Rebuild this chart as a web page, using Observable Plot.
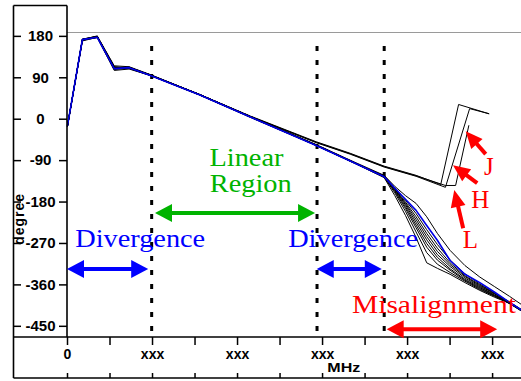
<!DOCTYPE html>
<html><head><meta charset="utf-8">
<script src="https://cdn.jsdelivr.net/npm/d3@7"></script>
<script src="https://cdn.jsdelivr.net/npm/@observablehq/plot@0.6"></script>
<style>
html,body{margin:0;padding:0;background:#fff;}
svg{display:block;}
</style>
</head><body><div id="chart"></div>
<script>
// ---- data (frequency in tick units, phase in degrees) ----
const freq = [0, 0.35, 0.7, 1.1, 1.45, 1.95, 3.1, 4.3, 5.85, 6.65, 7.45, 7.7, 7.95, 8.2, 8.45, 8.7, 9.0, 9.35, 9.7, 10.05, 10.4, 10.7];
const phaseBlue = [-14, 173, 178, 110, 112, 95, 53, 5, -57, -91, -125, -150, -174, -198, -231, -263, -307, -337, -355, -376, -398, -416];
const phaseK1 = [-16, 172, 179, 112, 113, 96, 53, 5, -56, -91, -127, -166, -209, -257, -312, -324, -337, -355, -372, -387, -400, -418];
const phaseK2 = [-15, 174, 180, 114, 110, 95, 53, 5, -57, -91, -126, -160, -200, -245, -290, -315, -333, -352, -370, -385, -400, -417];
const phaseK3 = [-14, 170, 178, 108, 111, 96, 54, 6, -56, -90, -125, -157, -194, -236, -278, -306, -328, -350, -368, -384, -401, -418];
const phaseK4 = [-15, 173, 181, 116, 114, 97, 54, 6, -56, -90, -125, -155, -190, -230, -270, -300, -325, -348, -366, -383, -400, -417];
const phaseK5 = [-13, 172, 177, 106, 109, 95, 53, 5, -57, -91, -124, -153, -186, -224, -262, -294, -320, -345, -364, -382, -399, -416];
const phaseK6 = [-14, 174, 180, 113, 112, 96, 53, 5, -56, -90, -124, -152, -183, -218, -255, -287, -316, -342, -362, -380, -398, -416];
const phaseK7 = [-15, 171, 179, 110, 113, 96, 54, 5, -57, -91, -124, -151, -180, -212, -248, -280, -312, -340, -360, -379, -398, -415];
const phaseK8 = [-14, 173, 178, 111, 111, 95, 53, 4, -57, -91, -123, -149, -176, -205, -240, -272, -306, -336, -358, -378, -397, -415];
const phaseK9 = [-14, 172, 180, 112, 112, 96, 54, 6, -55, -89, -122, -146, -166, -183, -212, -248, -285, -318, -343, -364, -385, -404];

const freqJ = [0, 0.35, 0.7, 1.1, 1.45, 1.95, 3.1, 4.3, 5.85, 6.65, 7.45, 8.2, 8.89, 9.13, 9.44];
const phaseJ = [-15, 172, 179, 111, 112, 96, 54, 6, -50, -75, -103, -123, -144, -144, -14];
const freqH = [0, 0.35, 0.7, 1.1, 1.45, 1.95, 3.1, 4.3, 5.85, 6.65, 7.45, 8.2, 8.89, 9.46, 9.91];
const phaseH = [-14, 173, 180, 113, 111, 95, 54, 6, -51, -76, -104, -124, -148, 23, 12];
const freqL = [0, 0.35, 0.7, 1.1, 1.45, 1.95, 3.1, 4.3, 5.85, 6.65, 7.45, 8.2, 8.78, 9.2, 9.91];
const phaseL = [-15, 174, 178, 112, 113, 96, 54, 7, -49, -74, -102, -122, -142, 32, 12];

const yTicks = [180, 90, 0, -90, -180, -270, -360, -450];
const xTicks = [0, 1, 2, 3, 4, 5, 6, 7, 8, 9, 10];
const xTickLabels = ["0", "", "xxx", "", "xxx", "", "xxx", "", "xxx", "", "xxx"];
const yLabel = "degree";
const xLabel = "MHz";

const dividers = [1.98, 5.87, 7.45];

const noteLabels = ["Linear", "Region", "Divergence", "Divergence", "Misalignment", "J", "H", "L"];
const noteX = [4.21, 4.31, 1.71, 6.72, 8.62, 9.91, 9.71, 9.48];
const noteY = [-100.6, -159.2, -277.6, -277.6, -420, -122, -192, -279];
const noteColor = ["#00b300", "#00b300", "#0000ff", "#0000ff", "#ff0000", "#ff0000", "#ff0000", "#ff0000"];

const spanFrom = [2.07, 0, 5.875, 7.52];
const spanTo = [5.835, 1.91, 7.405, 10.12];
const spanAt = [-205, -326.5, -326.5, -457.5];
const spanColor = ["#00b300", "#0000ff", "#0000ff", "#ff0000"];

const pointFromX = [9.85, 9.65, 9.32];
const pointFromY = [-77, -140, -238];
const pointToX = [9.38, 9.08, 9.11];
const pointToY = [-27, -101, -155];

// ---- build tables ----
const blackSeries = [
  ["k1", freq, phaseK1], ["k2", freq, phaseK2], ["k3", freq, phaseK3], ["k4", freq, phaseK4],
  ["k5", freq, phaseK5], ["k6", freq, phaseK6], ["k7", freq, phaseK7], ["k8", freq, phaseK8],
  ["k9", freq, phaseK9], ["J", freqJ, phaseJ], ["H", freqH, phaseH], ["L", freqL, phaseL]
];
const blackRows = blackSeries.flatMap(([id, f, p]) => f.map((x, i) => ({id, x, y: p[i]})));
const blueRows = freq.map((x, i) => ({x, y: phaseBlue[i]}));
const notes = noteLabels.map((t, i) => ({t, x: noteX[i], y: noteY[i], c: noteColor[i]}));

const yTop = 188.4, yBottom = -474.3;

const chart = Plot.plot({
  width: 521, height: 381,
  marginTop: 32, marginBottom: 44, marginLeft: 67, marginRight: 0,
  x: {domain: [0, 10.68], label: null, axis: null},
  y: {domain: [yBottom, yTop], label: null, axis: null},
  style: {fontFamily: "'Liberation Sans', Arial, sans-serif", background: "white", color: "black"},
  marks: [
    Plot.ruleY([yTop], {stroke: "#9a9a9a", strokeWidth: 1.2}),
    Plot.ruleX(dividers, {y1: 158, y2: yBottom, stroke: "black", strokeWidth: 3, strokeDasharray: "5,9"}),
    Plot.line(blackRows, {x: "x", y: "y", z: "id", stroke: "black", strokeWidth: 1, curve: "linear"}),
    Plot.line(blueRows, {x: "x", y: "y", stroke: "#0000e6", strokeWidth: 1.6}),
    Plot.axisY(yTicks, {anchor: "left", label: null, tickSize: 0, tickPadding: 27, textAnchor: "middle",
      fontWeight: "bold", fontSize: 15, tickFormat: d => String(d)}),
    Plot.axisY(yTicks, {anchor: "left", label: null, tickSize: 8, strokeWidth: 1.5, tickFormat: () => ""}),
    Plot.axisY(yTicks, {anchor: "left", label: null, tickSize: 8, strokeWidth: 1.5, dx: -46, tickFormat: () => ""}),
    Plot.axisX(xTicks, {anchor: "bottom", label: null, tickSize: 8, tickPadding: 4, strokeWidth: 1.5,
      fontWeight: "bold", fontSize: 14, tickFormat: d => xTickLabels[xTicks.indexOf(d)]}),
    Plot.axisX(xTicks, {anchor: "bottom", label: null, tickSize: 5, dy: 36, strokeWidth: 1.5, tickFormat: () => ""}),
    Plot.text([xLabel], {x: [6.5], frameAnchor: "bottom", dy: 34, fontWeight: "bold", fontSize: 13, text: d => d}),
    Plot.text(notes, {x: "x", y: "y", text: "t", fill: "c", fontFamily: "'Liberation Serif', 'Times New Roman', serif",
      fontSize: 25, textAnchor: "middle", lineAnchor: "bottom"})
  ]
});
document.getElementById("chart").appendChild(chart);

// ---- decorations drawn with the chart's own scales ----
const sx = chart.scale("x"), sy = chart.scale("y");
const X = v => sx.apply(v), Y = v => sy.apply(v);
const svgSel = d3.select(chart);
const deco = svgSel.append("g");

// stretch serif annotation text to the reference widths
const stretch = {"Linear": 74, "Region": 82, "Divergence": 130, "Misalignment": 164, "MHz": 33};
svgSel.selectAll("text").each(function() {
  const t = this.textContent;
  if (stretch[t] && this.childNodes.length === 1) {
    d3.select(this).attr("textLength", stretch[t]).attr("lengthAdjust", "spacingAndGlyphs");
  }
});

// rotated y-axis title, running down across the -180 / -270 labels
deco.append("text")
  .attr("transform", `translate(24,${Y(-274)}) rotate(-90)`)
  .attr("text-anchor", "start")
  .attr("font-family", "'Liberation Sans', Arial, sans-serif")
  .attr("font-weight", "bold").attr("font-size", 14)
  .attr("letter-spacing", 1)
  .text(yLabel);

// axis boxes
const boxLeft = 13.5, boxRight = 521, boxTop = 5.5;
const plotLeft = X(0), plotBottom = Y(yBottom);
const boxBottom = 378;
const frameLines = [
  [boxLeft, boxTop, boxLeft, boxBottom],
  [boxLeft, boxTop, plotLeft, boxTop],
  [plotLeft, boxTop, plotLeft, plotBottom],
  [boxLeft, plotBottom, boxRight, plotBottom],
  [boxLeft, boxBottom, boxRight, boxBottom]
];
frameLines.forEach(([x1, y1, x2, y2]) => deco.append("line")
  .attr("x1", x1).attr("y1", y1).attr("x2", x2).attr("y2", y2)
  .attr("stroke", "black").attr("stroke-width", 1.6));

function head(tx, ty, ang, color, L, Wd) {
  const ux = Math.cos(ang), uy = Math.sin(ang);
  const bx = tx - ux * L, by = ty - uy * L;
  const px = -uy, py = ux;
  deco.append("path")
    .attr("d", `M${tx},${ty}L${bx + px * Wd / 2},${by + py * Wd / 2}L${bx - px * Wd / 2},${by - py * Wd / 2}Z`)
    .attr("fill", color);
}
spanFrom.forEach((a, i) => {
  const x1 = X(a), x2 = X(spanTo[i]), y = Y(spanAt[i]), c = spanColor[i];
  deco.append("line").attr("x1", x1 + 10).attr("x2", x2 - 10).attr("y1", y).attr("y2", y)
    .attr("stroke", c).attr("stroke-width", 4);
  head(x1, y, Math.PI, c, 17, 18);
  head(x2, y, 0, c, 17, 18);
});
pointFromX.forEach((a, i) => {
  const x1 = X(a), y1 = Y(pointFromY[i]), x2 = X(pointToX[i]), y2 = Y(pointToY[i]);
  const ang = Math.atan2(y2 - y1, x2 - x1);
  deco.append("line").attr("x1", x1).attr("y1", y1)
    .attr("x2", x2 - Math.cos(ang) * 10).attr("y2", y2 - Math.sin(ang) * 10)
    .attr("stroke", "#ff0000").attr("stroke-width", 4);
  head(x2, y2, ang, "#ff0000", 17, 15);
});
</script>
</body></html>
